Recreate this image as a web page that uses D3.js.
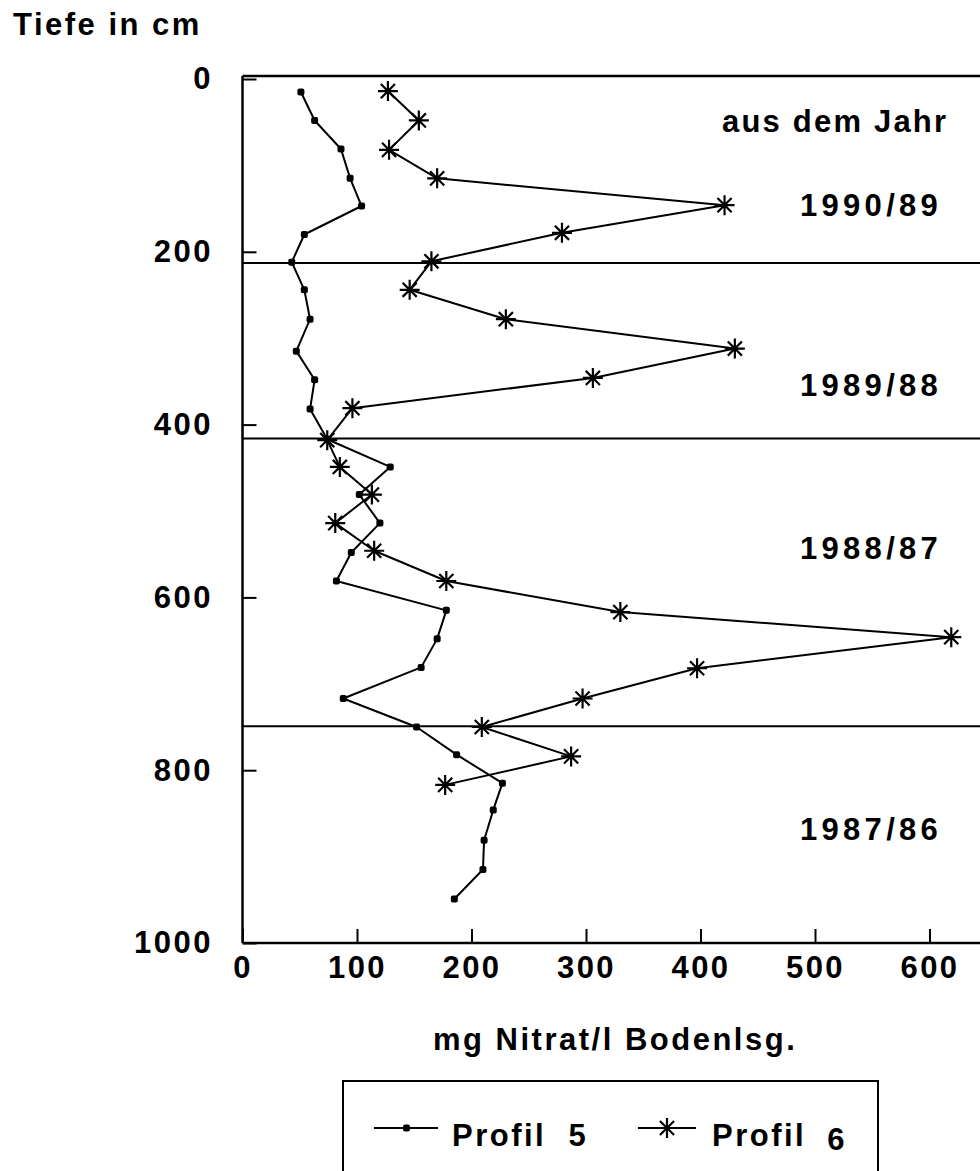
<!DOCTYPE html>
<html>
<head>
<meta charset="utf-8">
<script src="https://cdn.jsdelivr.net/npm/d3@7"></script>
<style>
  body { margin: 0; background: #fff; }
  svg text { font-family: "Liberation Sans", Arial, Helvetica, sans-serif; font-weight: bold; fill: #000; }
</style>
</head>
<body>
<div id="chart"></div>
<script>
// depth (cm) and nitrate (mg/l)
var depth5 = [15, 48, 81, 115, 147, 180, 212, 244, 278, 315, 348, 382, 417, 449, 481, 514, 548, 581, 615, 648, 681, 717, 750, 782, 815, 846, 881, 915, 949];
var profil5 = [51, 63, 86, 94, 104, 54, 43, 54, 59, 47, 63, 59, 74, 129, 102, 120, 95, 82, 178, 170, 156, 88, 152, 187, 227, 219, 211, 210, 185];
var depth6 = [14, 48, 82, 115, 146, 178, 211, 244, 278, 312, 346, 381, 418, 449, 481, 514, 546, 581, 617, 646, 682, 717, 750, 784, 817];
var profil6 = [127, 154, 128, 170, 421, 279, 165, 146, 230, 430, 306, 96, 74, 85, 113, 81, 115, 178, 330, 619, 397, 297, 209, 287, 177];
var yearBorders = [213, 416, 749];
var yearLabels = ['1990/89', '1989/88', '1988/87', '1987/86'];
var xTicks = [0, 100, 200, 300, 400, 500, 600];
var yTicks = [0, 200, 400, 600, 800, 1000];
var seriesNames = ['Profil  5', 'Profil '];

var W = 980, H = 1171;
var svg = d3.select('#chart').append('svg')
  .attr('width', W)
  .attr('height', H);

var x = d3.scaleLinear().domain([0, 600]).range([242.5, 929.5]);
var y = d3.scaleLinear().domain([0, 1000]).range([79, 943]);
var fs = 31, ls = 2.5;

// star marker: 4 strokes through the centre
var starPath = function(cx, cy, r) {
  var p = d3.path();
  [0, 45, 90, 135].forEach(function(a) {
    var t = a * Math.PI / 180;
    p.moveTo(cx - r * Math.cos(t), cy - r * Math.sin(t));
    p.lineTo(cx + r * Math.cos(t), cy + r * Math.sin(t));
  });
  return p.toString();
};

// frame: left axis, bottom axis, top line (open on the right)
svg.append('line').attr('x1', x(0)).attr('x2', x(0)).attr('y1', y(0) - 3).attr('y2', y(1000))
  .attr('stroke', '#000').attr('stroke-width', 2.5);
svg.append('line').attr('x1', x(0)).attr('x2', W).attr('y1', y(0) - 3).attr('y2', y(0) - 3)
  .attr('stroke', '#000').attr('stroke-width', 2.5);
svg.append('line').attr('x1', x(0)).attr('x2', W).attr('y1', y(1000)).attr('y2', y(1000))
  .attr('stroke', '#000').attr('stroke-width', 2.5);

var xAxis = svg.append('g')
  .attr('transform', 'translate(0,' + y(1000) + ')')
  .call(d3.axisBottom(x).tickValues(xTicks).tickFormat(d3.format('d')).tickSize(-14).tickPadding(13));
var yAxis = svg.append('g')
  .attr('transform', 'translate(' + x(0) + ',0)')
  .call(d3.axisLeft(y).tickValues(yTicks).tickFormat(d3.format('d')).tickSize(-14).tickPadding(32 - ls));
[xAxis, yAxis].forEach(function(g) {
  g.select('.domain').remove();
  g.selectAll('.tick line').attr('stroke', '#000').attr('stroke-width', 2);
  g.selectAll('.tick text')
    .style('font-size', fs + 'px')
    .style('letter-spacing', ls + 'px')
    .style('font-family', '"Liberation Sans", Arial, sans-serif')
    .style('font-weight', 'bold');
});

// year boundaries
svg.selectAll('line.border').data(yearBorders)
  .enter().append('line')
  .attr('class', 'border')
  .attr('x1', x(0)).attr('x2', W)
  .attr('y1', function(d) { return y(d); })
  .attr('y2', function(d) { return y(d); })
  .attr('stroke', '#000').attr('stroke-width', 2);

var line5 = d3.line()
  .x(function(d, i) { return x(profil5[i]); })
  .y(function(d) { return y(d); });
var line6 = d3.line()
  .x(function(d, i) { return x(profil6[i]); })
  .y(function(d) { return y(d); });

svg.append('path').attr('d', line5(depth5))
  .attr('fill', 'none').attr('stroke', '#000').attr('stroke-width', 2).attr('stroke-linejoin', 'round');
svg.append('path').attr('d', line6(depth6))
  .attr('fill', 'none').attr('stroke', '#000').attr('stroke-width', 2).attr('stroke-linejoin', 'round');

svg.selectAll('rect.p5').data(depth5)
  .enter().append('rect')
  .attr('class', 'p5')
  .attr('x', function(d, i) { return x(profil5[i]) - 3.5; })
  .attr('y', function(d) { return y(d) - 3.5; })
  .attr('width', 7).attr('height', 7)
  .attr('rx', 2)
  .attr('fill', '#000');

svg.selectAll('path.p6').data(depth6)
  .enter().append('path')
  .attr('class', 'p6')
  .attr('d', function(d, i) { return starPath(x(profil6[i]), y(d), 10); })
  .attr('stroke', '#000').attr('stroke-width', 2.2);

// texts
var label = function(txt, tx, ty) {
  return svg.append('text').attr('x', tx).attr('y', ty)
    .style('font-size', fs + 'px').style('letter-spacing', ls + 'px')
    .text(txt);
};
label('Tiefe in cm', 13, 35);
label('aus dem Jahr', 722, 132).style('letter-spacing', '2.2px');
var yearY = [216, 396, 559, 840];
yearLabels.forEach(function(t, i) { label(t, 800, yearY[i]).style('letter-spacing', '4.3px'); });
label('mg Nitrat/l Bodenlsg.', 433, 1050);

// legend
svg.append('rect').attr('x', 343).attr('y', 1081).attr('width', 535).attr('height', 120)
  .attr('fill', 'none').attr('stroke', '#000').attr('stroke-width', 2);
svg.append('line').attr('x1', 374).attr('x2', 438).attr('y1', 1128).attr('y2', 1128)
  .attr('stroke', '#000').attr('stroke-width', 2);
svg.append('rect').attr('x', 403).attr('y', 1124.5).attr('width', 7).attr('height', 7).attr('rx', 2).attr('fill', '#000');
label(seriesNames[0], 452, 1146).style('white-space', 'pre');
svg.append('line').attr('x1', 638).attr('x2', 696).attr('y1', 1128).attr('y2', 1128)
  .attr('stroke', '#000').attr('stroke-width', 2);
svg.append('path').attr('d', starPath(667, 1128, 10)).attr('stroke', '#000').attr('stroke-width', 2.2);
var t6 = label(seriesNames[1], 712, 1146).style('white-space', 'pre');
t6.append('tspan').attr('dx', 10).attr('dy', 4).text('6');
</script>
</body>
</html>
